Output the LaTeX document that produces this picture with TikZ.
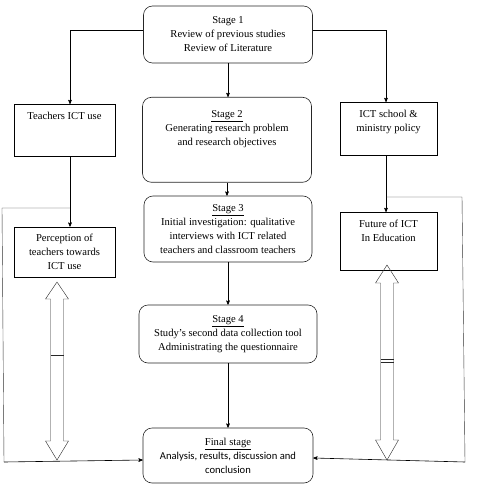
\documentclass[tikz,border=0pt]{standalone}
\usepackage{fontspec}
\setmainfont{Liberation Serif}
\newfontfamily\calib{Carlito}
\usetikzlibrary{arrows}

\begin{document}
\begin{tikzpicture}[
                    x=1pt,
                    y=-1pt,
                    >=stealth',
                    semithick,
                    font=\fontsize{10.6}{14}\selectfont
                ]
                \tikzstyle{stage}=[draw=black!85,rounded corners=9pt,align=center,inner sep=0pt]
                \tikzstyle{topic}=[draw=black,align=center,inner sep=0pt]
                \tikzstyle{link}=[->]
                \tikzstyle{feedback}=[thin,black!80]
                \tikzstyle{hollow}=[draw=black!85,thin]

                \useasboundingbox (0,0) rectangle (480,486);

                \node[stage,minimum width=169pt,minimum height=57pt] (stageone) at (228,34.5)
                    {Stage 1\\Review of previous studies\\Review of Literature};
                \node[stage,anchor=north,minimum width=169pt,text height=48pt,text depth=37pt] (stagetwo) at (227,97)
                    {\underline{Stage 2}\\Generating research problem\\and research objectives};
                \node[stage,minimum width=168pt,minimum height=66pt] (stagethree) at (228,229)
                    {\underline{Stage 3}\\Initial investigation: qualitative\\interviews with ICT related\\teachers and classroom teachers};
                \node[stage,minimum width=178pt,minimum height=58pt] (stagefour) at (228,334)
                    {\underline{Stage 4}\\Study’s second data collection tool\\Administrating the questionnaire};
                \node[stage,minimum width=170pt,minimum height=55pt] (final) at (228,455.5)
                    {\underline{Final stage}\\{\calib Analysis, results, discussion and}\\{\calib conclusion}};

                \node[topic,anchor=north,minimum width=101pt,text height=15pt,text depth=37pt] (teachers) at (64.5,104)
                    {Teachers ICT use};
                \node[topic,minimum width=101pt,minimum height=50pt] (perception) at (64.5,252)
                    {Perception of\\teachers towards\\ICT use};
                \node[topic,anchor=north,minimum width=97pt,text height=29pt,text depth=24pt] (policy) at (388.5,102)
                    {ICT school \&\\ministry policy};
                \node[topic,anchor=north,minimum width=97pt,text height=29pt,text depth=29pt] (future) at (388.5,212)
                    {Future of ICT\\In Education};

                \coordinate (ljoin)   at (70,208);
                \coordinate (lcorner) at (2,208);
                \coordinate (lbottom) at (4,462);
                \coordinate (rjoin)   at (386,197);
                \coordinate (rcorner) at (462,197);
                \coordinate (rbottom) at (465,462);

                % main line of stages
                \draw[link] (stageone.south)   -- (stageone.south |- stagetwo.north);
                \draw[link] (stagetwo.south)   -- (stagetwo.south |- stagethree.north);
                \draw[link] (stagethree.south) -- (stagefour.north);
                \draw[link] (stagefour.south)  -- (final.north);

                % side branches
                \draw[link] ([yshift=4.5pt]stageone.west) -| ([xshift=5.5pt]teachers.north);
                \draw[link] ([yshift=4.5pt]stageone.east) -| ([xshift=-2.5pt]policy.north);
                \draw[link] ([xshift=5.5pt]teachers.south) -- ([xshift=5.5pt]perception.north);
                \draw[link] ([xshift=-2.5pt]policy.south) -- ([xshift=-2.5pt]future.north);

                % feedback to final stage
                \draw[feedback] (ljoin) -- (lcorner) -- (lbottom);
                \draw[link] (lbottom) -- ([yshift=-4.5pt]final.west);
                \draw[feedback] (rjoin) -- (rcorner) -- (rbottom);
                \draw[link] (rbottom) -- ([yshift=-2.5pt]final.east);

                % hollow double arrows
                \draw[hollow] (57,282) -- (68.5,299) -- (63.5,299) -- (63.5,441) -- (68.5,441) -- (57,460)
                    -- (45.5,441) -- (50.5,441) -- (50.5,299) -- (45.5,299) -- cycle;
                \draw[hollow] (50.5,355) -- (63.5,355);
                \draw[hollow] (387,265) -- (398.5,283) -- (393.5,283) -- (393.5,440) -- (398.5,440) -- (387,460)
                    -- (375.5,440) -- (380.5,440) -- (380.5,283) -- (375.5,283) -- cycle;
                \draw[hollow] (380.5,359.5) -- (393.5,359.5);
                \draw[hollow] (380.5,362) -- (393.5,362);
            \end{tikzpicture}
\end{document}
